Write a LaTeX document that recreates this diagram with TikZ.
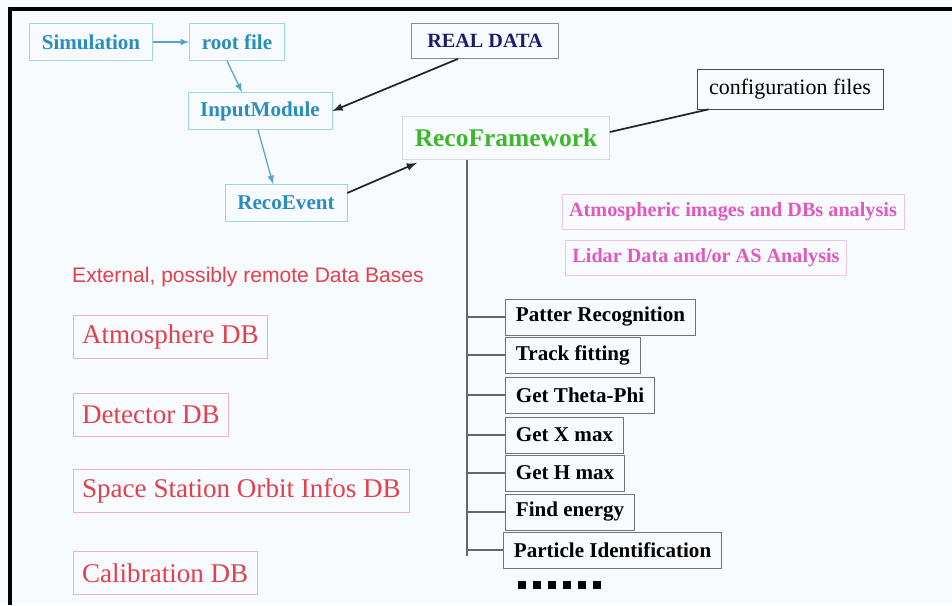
\documentclass[tikz,border=0pt]{standalone}
\usepackage{fontspec}
\setmainfont{Liberation Serif}
\newfontfamily\remotefont{Liberation Sans}
\usetikzlibrary{calc}
\definecolor{modblue}{HTML}{2A8CBF}
\definecolor{modline}{HTML}{9FD3E6}
\definecolor{recogreen}{HTML}{3CB82A}
\definecolor{navy}{HTML}{1C1C6E}
\definecolor{anapink}{HTML}{E058C0}
\definecolor{anaframe}{HTML}{F0C4E2}
\definecolor{dbred}{HTML}{E2404E}
\definecolor{dbframe}{HTML}{EBB4BC}
\definecolor{paper}{HTML}{F7FBFD}
\tikzset{
	modbox/.style={draw=modline, text=modblue, inner xsep=7pt, minimum height=0.74cm, font=\fontsize{12}{14}\selectfont\bfseries},
	stepbox/.style={draw=black!55, anchor=west, inner xsep=6pt, minimum height=0.72cm, font=\fontsize{12}{14}\selectfont\bfseries},
	anabox/.style={draw=anaframe, text=anapink, inner xsep=4pt, minimum height=0.70cm, font=\fontsize{11.5}{14}\selectfont\bfseries},
	dbbox/.style={draw=dbframe, text=dbred, anchor=west, inner xsep=5pt, minimum height=0.86cm, font=\fontsize{15.4}{18}\selectfont},
	modarrow/.style={draw=modblue!80, -latex, line width=0.7pt},
	dataarrow/.style={draw=black!85, -latex, line width=1pt}
}
\begin{document}
\begin{tikzpicture}[x=0.02cm, y=-0.02cm]
			%%%%% START %%%%%
			
			\fill[paper] (0, 0) rectangle (952, 605);
			\useasboundingbox (0, 0) rectangle (952, 605);
			\draw[line width=1.8pt] (10, 605) -- (10, 9) -- (952, 9);
			
			% input chain
			\node[modbox] (sim) at (91, 42) {Simulation};
			\node[modbox] (root) at (237, 42) {root file};
			\node[modbox] (input) at (260, 111) {InputModule};
			\node[modbox] (event) at (286, 203) {RecoEvent};
			\node[draw=black!45, text=navy, inner xsep=9pt, minimum height=0.70cm, font=\fontsize{11.5}{14}\selectfont\bfseries] (real) at (485, 41) {REAL DATA};
			
			\node[draw=black!15, text=recogreen, inner xsep=7pt, minimum height=0.86cm, font=\fontsize{14.5}{17}\selectfont\bfseries] (reco) at (506, 138) {RecoFramework};
			\node[draw=black!70, inner xsep=7pt, minimum height=0.80cm, font=\fontsize{12.5}{15}\selectfont] (conf) at (790, 89) {configuration files};
			
			\draw[modarrow] (sim.east) -- (root.west);
			\draw[modarrow] ($(root.south)+(-10, 0)$) -- ($(input.north)+(-18, 0)$);
			\draw[modarrow] ($(input.south)+(-2, 0)$) -- ($(event.north)+(-13, 0)$);
			\draw[dataarrow] ($(real.south)+(-27, 0)$) -- (input.east);
			\draw[dataarrow] ($(event.east)+(0, -10)$) -- ($(reco.south)+(-89, 3)$);
			\draw[line width=1pt, black!85] ($(reco.east)+(0, -6)$) -- ($(conf.south west)+(12, 0)$);
			
			% analysis
			\node[anabox] (atm) at (733, 212) {Atmospheric images and DBs analysis};
			\node[anabox] (lidar) at (706, 258) {Lidar Data and/or AS Analysis};
			
			% external data bases
			\node[text=dbred, font=\remotefont\fontsize{12}{14}\selectfont] (remote) at (248, 277) {External, possibly remote Data Bases};
			\node[dbbox] (atmdb) at (73, 337) {Atmosphere DB};
			\node[dbbox] (detdb) at (73, 415) {Detector DB};
			\node[dbbox] (orbdb) at (73, 491) {Space Station Orbit Infos DB};
			\node[dbbox] (caldb) at (73, 573) {Calibration DB};
			
			% reconstruction steps
			\node[stepbox] (s1) at (505, 317) {Patter Recognition};
			\node[stepbox] (s2) at (505, 355) {Track fitting};
			\node[stepbox] (s3) at (505, 395) {Get Theta-Phi};
			\node[stepbox] (s4) at (505, 435) {Get X max};
			\node[stepbox] (s5) at (505, 473) {Get H max};
			\node[stepbox] (s6) at (505, 512) {Find energy};
			\node[stepbox] (s7) at (503, 550) {Particle Identification};
			
			\coordinate (trunk) at ($(reco.south)+(-39, 0)$);
			\coordinate (trunkend) at ($(trunk |- s7.west)+(0, 6)$);
			\draw[line width=1pt, black!60] (trunk) -- (trunkend);
			\foreach \s in {s1,s2,s3,s4,s5,s6,s7}
				\draw[line width=0.8pt, black!60] (trunk |- \s.west) -- (\s.west);
			
			\foreach \i in {0,...,5}
				\fill (518+15*\i, 581) rectangle (526+15*\i, 589);
			
			%%%%% END %%%%%
		\end{tikzpicture}
\end{document}
